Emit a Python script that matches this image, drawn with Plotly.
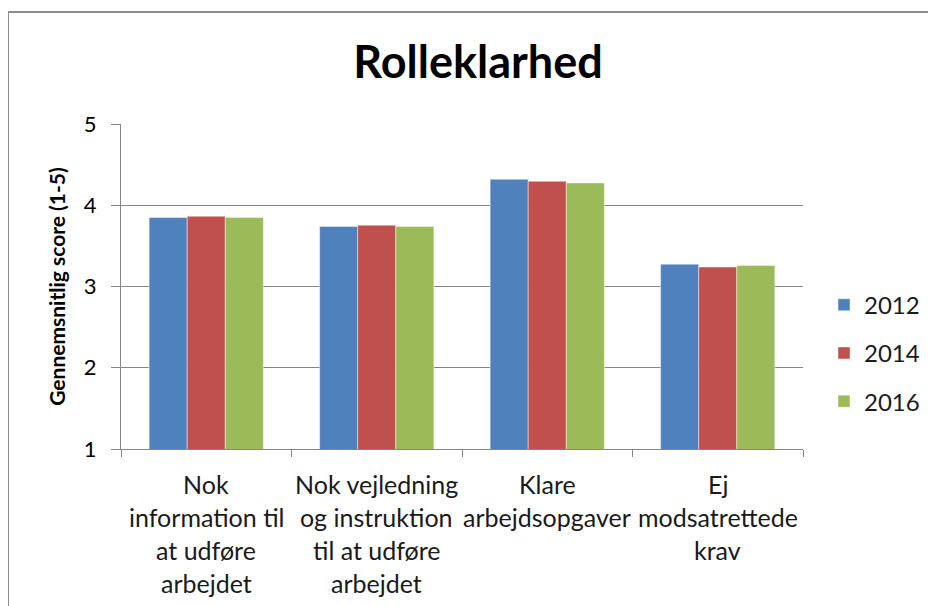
import plotly.graph_objects as go

categories = [
    "Nok\ninformation til\nat udføre\narbejdet",
    "Nok vejledning\nog instruktion\ntil at udføre\narbejdet",
    "Klare\narbejdsopgaver",
    "Ej\nmodsatrettede\nkrav",
]
cat_keys = ["c1", "c2", "c3", "c4"]
years = ["2012", "2014", "2016"]
values_2012 = [3.85, 3.74, 4.32, 3.275]
values_2014 = [3.865, 3.755, 4.295, 3.24]
values_2016 = [3.85, 3.74, 4.275, 3.26]
colors = ["#4F81BD", "#C0504D", "#9BBB59"]
series = [values_2012, values_2014, values_2016]

FONT = "Lato"
W, H = 928, 598
L, T, R, B = 113, 116, 133, 157
PW, PH = W - L - R, H - T - B

fig = go.Figure()
for name, vals, col in zip(years, series, colors):
    fig.add_trace(go.Bar(
        x=cat_keys, y=vals, name=name, legendgroup=name,
        marker=dict(color=col, line=dict(color="rgba(255,255,255,0.45)", width=1)),
    ))

annotations = []
for key, label in zip(cat_keys, categories):
    for i, line in enumerate(label.split("\n")):
        annotations.append(dict(
            x=key, xref="x", y=0, yref="paper", text=line, showarrow=False,
            yanchor="middle", xanchor="center", yshift=-35 - 33 * i,
            font=dict(family=FONT, size=25, color="#1a1a1a"),
        ))

fig.update_layout(
    width=W, height=H,
    margin=dict(l=L, r=R, t=T, b=B, autoexpand=False),
    paper_bgcolor="white", plot_bgcolor="white",
    barmode="group", bargap=0.33, bargroupgap=0,
    title=dict(text="<b>Rolleklarhed</b>", x=(478 - 8) / W, xanchor="center",
               y=1 - 54 / H, yanchor="middle", yref="container",
               font=dict(family=FONT, size=45, color="black")),
    showlegend=True,
    legend=dict(x=(816 - L) / PW, xanchor="left", y=0.295, yanchor="middle",
                font=dict(family=FONT, size=24, color="#1a1a1a"),
                traceorder="grouped", tracegroupgap=14,
                itemwidth=30, bgcolor="rgba(0,0,0,0)"),
    annotations=annotations,
    xaxis=dict(
        showticklabels=False, ticks="outside", tickson="boundaries",
        ticklen=7, tickcolor="#868686", showline=True, linecolor="#868686",
        linewidth=1, showgrid=False, zeroline=False,
    ),
    yaxis=dict(
        range=[1, 5], dtick=1, tick0=1, ticks="outside", ticklen=9,
        tickcolor="#868686", showline=True, linecolor="#868686", linewidth=1,
        showgrid=True, gridcolor="#868686", gridwidth=1, zeroline=False,
        tickfont=dict(family=FONT, size=22, color="black"),
        ticklabelstandoff=10,
        title=dict(text="<b>Gennemsnitlig score (1-5)</b>", standoff=12,
                   font=dict(family=FONT, size=21, color="black")),
    ),
    shapes=[dict(type="rect", xref="paper", yref="paper",
                 x0=(0 - L) / PW, x1=(W + 20 - L) / PW,
                 y0=-(B + 20) / PH, y1=(PH + T - 4) / PH,
                 line=dict(color="#8c8c8c", width=2), layer="below")],
)

fig.write_html("out.html")
